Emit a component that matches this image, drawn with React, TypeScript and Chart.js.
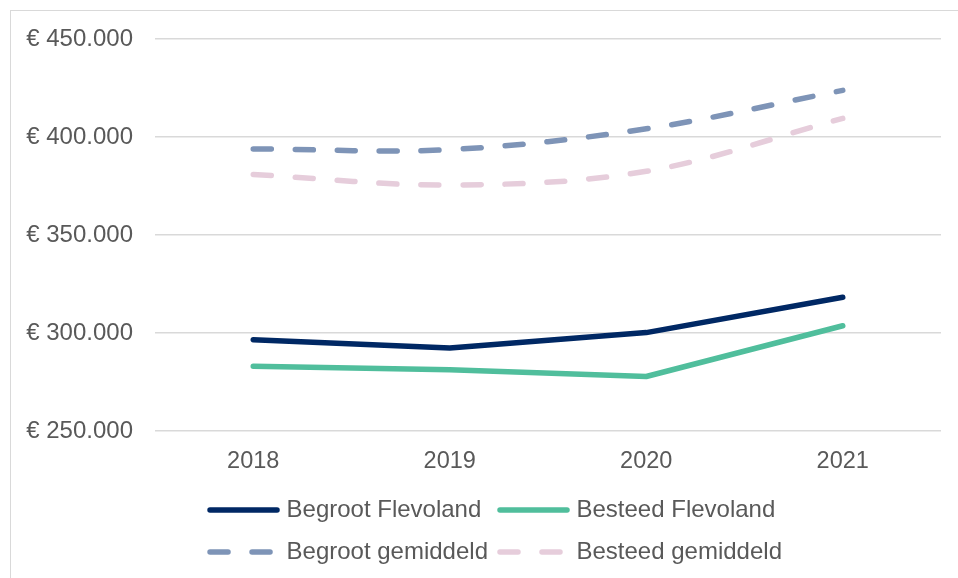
import React, { useEffect, useRef } from "react";
import { Chart, registerables } from "chart.js";

Chart.register(...registerables);

const categories = ["2018", "2019", "2020", "2021"];
const begrootFlevoland = [296600, 292300, 300200, 318200];
const besteedFlevoland = [283000, 281300, 277800, 303700];
const begrootGemiddeld = [393900, 393600, 404200, 423800];
const besteedGemiddeld = [380900, 375500, 382500, 409500];
const seriesLabels = ["Begroot Flevoland", "Besteed Flevoland", "Begroot gemiddeld", "Besteed gemiddeld"];

const FONT_FAMILY = 'Arial, "Liberation Sans", sans-serif';
const TEXT_COLOR = "#595959";
const GRID_COLOR = "#d9d9d9";
const LINE_W = 5.5;
const DASH = [18, 24];

const formatEuro = (v: number) => "€ " + String(Math.round(v)).replace(/\B(?=(\d{3})+(?!\d))/g, ".");

const gridLegend = {
  id: "gridLegend",
  afterDraw(chart: any) {
    const ctx = chart.ctx as CanvasRenderingContext2D;
    const datasets = chart.data.datasets as any[];
    const cols = 2;
    const sampleLen = 67;
    const textOffset = 76.5;
    const colGap = 12;
    const centerX = 496;
    const rowY = [510, 552];
    ctx.save();
    ctx.font = `24px ${FONT_FAMILY}`;
    const widths = datasets.map((d) => ctx.measureText(d.label).width);
    const colW = [0, 1].map((c) => Math.max(...widths.filter((_, i) => i % cols === c)));
    const total = textOffset + colW[0] + colGap + textOffset + colW[1];
    const startX = centerX - total / 2;
    const colX = [startX, startX + textOffset + colW[0] + colGap];
    datasets.forEach((d, i) => {
      const c = i % cols;
      const r = Math.floor(i / cols);
      const x = colX[c];
      const y = rowY[r];
      ctx.beginPath();
      ctx.strokeStyle = d.borderColor;
      ctx.lineWidth = d.borderWidth;
      ctx.lineCap = "round";
      ctx.setLineDash(d.borderDash || []);
      ctx.moveTo(x, y);
      ctx.lineTo(x + sampleLen, y);
      ctx.stroke();
      ctx.setLineDash([]);
      ctx.fillStyle = TEXT_COLOR;
      ctx.textAlign = "left";
      ctx.textBaseline = "middle";
      ctx.fillText(d.label, x + textOffset, y);
    });
    ctx.restore();
  },
};

export default function App() {
  const ref = useRef<HTMLCanvasElement | null>(null);

  useEffect(() => {
    if (!ref.current) return;
    const common = {
      borderWidth: LINE_W,
      pointRadius: 0,
      borderCapStyle: "round" as const,
      borderJoinStyle: "round" as const,
    };
    const chart = new Chart(ref.current, {
      type: "line",
      data: {
        labels: categories,
        datasets: [
          { ...common, label: seriesLabels[0], data: begrootFlevoland, borderColor: "#002864", backgroundColor: "#002864", tension: 0 },
          { ...common, label: seriesLabels[1], data: besteedFlevoland, borderColor: "#50BE9C", backgroundColor: "#50BE9C", tension: 0 },
          { ...common, label: seriesLabels[2], data: begrootGemiddeld, borderColor: "#7E94B7", backgroundColor: "#7E94B7", borderDash: DASH, tension: 0.35 },
          { ...common, label: seriesLabels[3], data: besteedGemiddeld, borderColor: "#E6CDDB", backgroundColor: "#E6CDDB", borderDash: DASH, tension: 0.35 },
        ],
      },
      options: {
        animation: false,
        responsive: true,
        maintainAspectRatio: false,
        layout: { padding: { left: 0, right: 17, top: 39, bottom: 97 } },
        plugins: {
          legend: { display: false },
          tooltip: { enabled: false },
          title: { display: false },
        },
        scales: {
          x: {
            type: "category",
            offset: true,
            grid: { display: false, drawTicks: false },
            border: { display: false },
            ticks: {
              color: TEXT_COLOR,
              font: { family: FONT_FAMILY, size: 23.5 },
              padding: 16,
              maxRotation: 0,
            },
            afterFit: (scale: any) => {
              scale.height = 50;
            },
          },
          y: {
            min: 250000,
            max: 450000,
            grid: { color: GRID_COLOR, lineWidth: 1.5, drawTicks: false },
            border: { display: false },
            ticks: {
              stepSize: 50000,
              color: TEXT_COLOR,
              font: { family: FONT_FAMILY, size: 24 },
              padding: 22,
              callback: (v: any) => formatEuro(Number(v)),
            },
            afterFit: (scale: any) => {
              scale.width = 155;
            },
          },
        },
      },
      plugins: [gridLegend],
    });
    return () => chart.destroy();
  }, []);

  return (
    <div style={{ position: "fixed", left: 0, top: 0, width: 958, height: 578, overflow: "hidden", background: "#fff" }}>
      <div
        style={{
          position: "absolute",
          left: 10,
          top: 10,
          width: 1000,
          height: 1000,
          border: `1px solid ${GRID_COLOR}`,
          boxSizing: "border-box",
        }}
      />
      <div style={{ position: "absolute", left: 0, top: 0, width: 958, height: 578 }}>
        <canvas ref={ref} />
      </div>
    </div>
  );
}
